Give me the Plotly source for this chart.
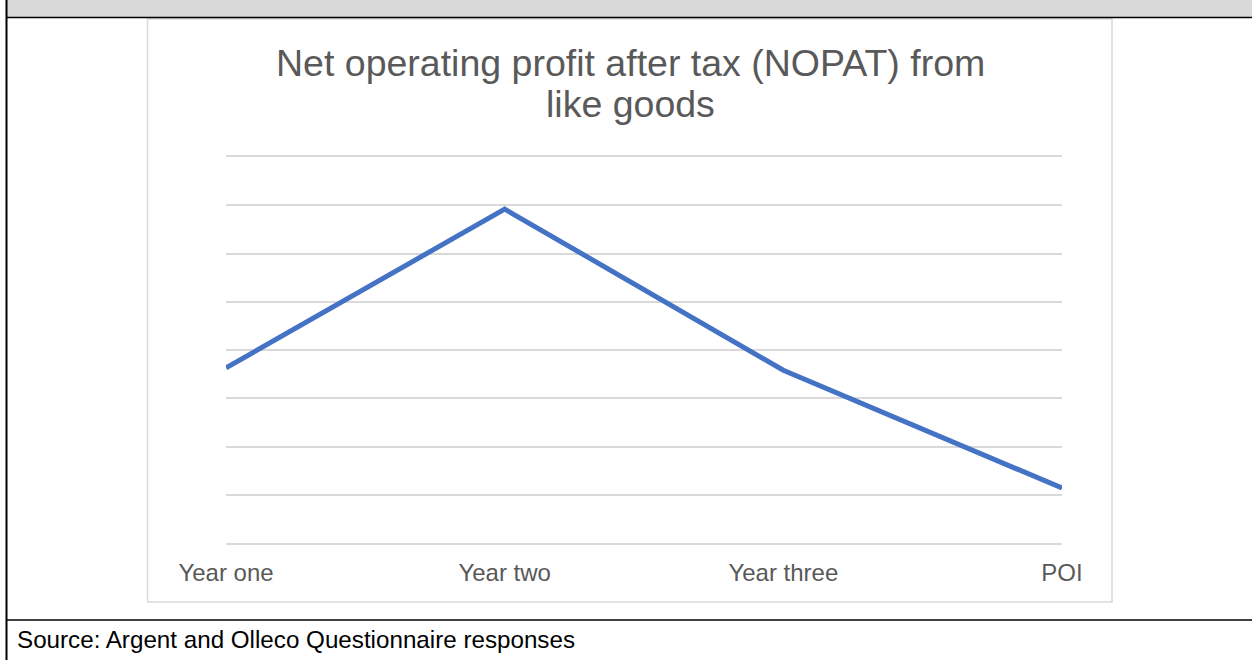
import plotly.graph_objects as go

categories = ["Year one", "Year two", "Year three", "POI"]
nopat = [3.63, 6.92, 3.58, 1.14]
title_lines = ["Net operating profit after tax (NOPAT) from", "like goods"]
source_note = "Source: Argent and Olleco Questionnaire responses"

W, H = 1252, 660
L, R, T, B = 226, 1062, 157, 543
PW, PH = R - L, B - T


def px(x):
    return (x - L) / PW


def py(y):
    return (B - y) / PH


FONT = "Liberation Sans, Arial, sans-serif"

fig = go.Figure()
fig.add_trace(go.Scatter(
    x=categories, y=nopat, mode="lines",
    line=dict(color="#4472C4", width=5),
    hoverinfo="skip", showlegend=False,
))

shapes = [
    # header band
    dict(type="rect", xref="paper", yref="paper", x0=px(7), x1=px(1252), y0=py(0), y1=py(17),
         fillcolor="#d9d9d9", line=dict(width=0), layer="below"),
    # table lines
    dict(type="line", xref="paper", yref="paper", x0=px(6), x1=px(1252), y0=py(17.5), y1=py(17.5),
         line=dict(color="black", width=1.5)),
    dict(type="line", xref="paper", yref="paper", x0=px(6.5), x1=px(6.5), y0=py(0), y1=py(660),
         line=dict(color="black", width=2)),
    dict(type="line", xref="paper", yref="paper", x0=px(6), x1=px(1252), y0=py(620), y1=py(620),
         line=dict(color="black", width=1.5)),
    # chart frame
    dict(type="rect", xref="paper", yref="paper", x0=px(147.5), x1=px(1112), y0=py(602), y1=py(19),
         fillcolor="rgba(0,0,0,0)", line=dict(color="#d9d9d9", width=1.5), layer="below"),
]

annotations = []
for line_text, cy in zip(title_lines, [63, 104]):
    annotations.append(dict(
        text=line_text, xref="paper", yref="paper", x=px(630), y=py(cy),
        xanchor="center", yanchor="middle", showarrow=False,
        font=dict(size=37.5, color="#595959", family=FONT)))
annotations.append(dict(
    text=source_note, xref="paper", yref="paper", x=px(15), y=py(639),
    xanchor="left", yanchor="middle", showarrow=False,
    font=dict(size=24.2, color="black", family=FONT)))

fig.update_layout(
    width=W, height=H,
    margin=dict(l=L, r=W - R, t=T, b=H - B, pad=0),
    paper_bgcolor="white", plot_bgcolor="white",
    font=dict(family=FONT, color="#595959"),
    shapes=shapes,
    annotations=annotations,
    xaxis=dict(
        type="category", range=[0, 3], showgrid=False, zeroline=False,
        showline=True, linecolor="#d9d9d9", linewidth=1.5, mirror=True,
        ticks="", tickfont=dict(size=24, color="#595959"), ticklabelstandoff=7,
    ),
    yaxis=dict(
        range=[0, 8], dtick=1, showgrid=True, gridcolor="#d9d9d9", gridwidth=1.5,
        zeroline=False, showticklabels=False, showline=False, ticks="",
    ),
)

fig.write_html("out.html")
